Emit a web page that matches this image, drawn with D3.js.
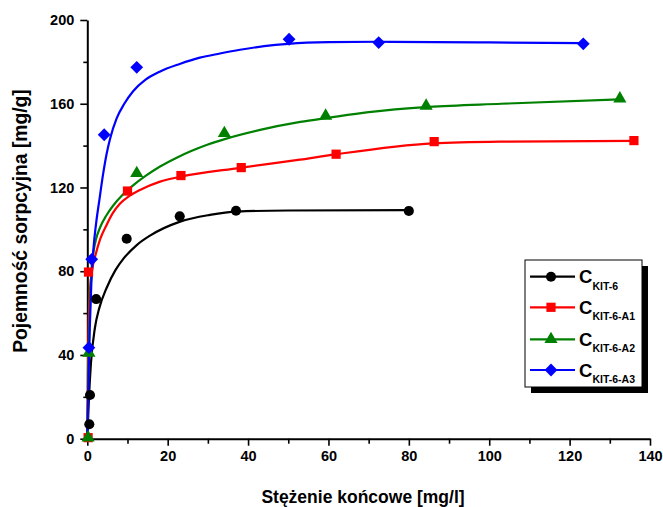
<!DOCTYPE html>
<html>
<head>
<meta charset="utf-8">
<script src="https://cdn.jsdelivr.net/npm/d3@7"></script>
<style>
  html, body { margin: 0; padding: 0; background: #fff; }
  svg { display: block; }
  text { font-family: "Liberation Sans", Arial, sans-serif; font-weight: bold; fill: #000; }
</style>
</head>
<body>
<svg id="chart" width="663" height="507"></svg>
<script>
// Measured adsorption points for each sorbent
const blackX = [0.5, 0.67, 2.2, 9.8, 23.0, 37.0, 80.0];
const blackY = [6.9, 20.9, 66.7, 95.5, 106.2, 108.9, 108.8];
const redX   = [0.2, 0.3, 10.0, 23.3, 38.3, 61.9, 86.3, 136.0];
const redY   = [0.5, 79.6, 118.3, 125.7, 129.5, 135.9, 141.9, 142.4];
const greenX = [0.2, 0.4, 12.3, 34.1, 59.3, 84.3, 132.5];
const greenY = [0.5, 41.0, 126.8, 145.9, 154.2, 159.0, 162.4];
const blueX  = [0.4, 1.1, 4.2, 12.3, 50.2, 72.5, 123.4];
const blueY  = [43.5, 85.7, 145.2, 177.4, 190.8, 189.2, 188.6];

// Isotherm fit lines
const fitBlackX = [0, 0.4, 0.9, 1.9, 3.0, 4.8, 7.0, 9.0, 12.3, 15.6, 23.1, 30.5, 37.2, 50, 80];
const fitBlackY = [0, 19, 36, 53, 62.5, 72, 80.5, 86, 92.5, 97, 103.7, 106.9, 108.5, 109, 109.2];
const fitRedX = [0, 0.15, 0.35, 0.7, 1.2, 2.16, 3.2, 4.8, 6.3, 8.1, 10.5, 13.1, 18.1, 23.1, 38, 52.9, 61.6, 86, 102.7, 136];
const fitRedY = [0, 30, 57, 72, 80.5, 88.6, 95.3, 102.1, 107.6, 112.2, 116, 118.8, 122.8, 125.1, 129.4, 133.3, 135.8, 141.1, 141.9, 142.3];
const fitGreenX = [0, 0.25, 0.5, 0.8, 1.1, 1.6, 2.2, 3.2, 4.7, 6.5, 8.8, 11.4, 14.5, 18.1, 22, 26, 30, 34, 43, 53, 60, 70, 85, 103, 132.5];
const fitGreenY = [0, 30, 52, 70, 82, 90, 95.5, 101, 106.5, 111.5, 116.5, 121, 125.5, 130, 134, 137.5, 140.5, 143, 147.5, 151.3, 153.3, 156, 158.5, 160, 162.1];
const fitBlueX = [0, 0.3, 0.6, 1.0, 1.5, 2.2, 3.0, 3.9, 4.8, 5.7, 7.3, 9.2, 11.4, 14.5, 18, 23, 28, 33, 38, 44, 50, 60, 72.5, 100, 123.4];
const fitBlueY = [0, 28, 52, 74, 90, 103, 114, 126, 136, 143.5, 153, 160, 166, 171.5, 175.3, 179, 182, 184, 185.8, 187.5, 188.6, 189.4, 189.6, 189.3, 189];

const seriesNames = ["KIT-6", "KIT-6-A1", "KIT-6-A2", "KIT-6-A3"];
const seriesColors = ["#000000", "#ff0000", "#008000", "#0000ff"];
const seriesSymbols = [d3.symbolCircle, d3.symbolSquare, d3.symbolTriangle, d3.symbolSquare];
const symbolRotate = [0, 0, 0, 45];
const symbolSizes = [80, 85, 75, 82];

const xTicks = [0, 20, 40, 60, 80, 100, 120, 140];
const xMinor = [10, 30, 50, 70, 90, 110, 130];
const yTicks = [0, 40, 80, 120, 160, 200];
const yMinor = [20, 60, 100, 140, 180];

const xTitle = "Stężenie końcowe [mg/l]";
const yTitle = "Pojemność sorpcyjna [mg/g]";

const pts = [
  [blackX, blackY], [redX, redY], [greenX, greenY], [blueX, blueY]
];
const fits = [
  [fitBlackX, fitBlackY], [fitRedX, fitRedY], [fitGreenX, fitGreenY], [fitBlueX, fitBlueY]
];

const svg = d3.select("#chart");
const x = d3.scaleLinear().domain([0, 140]).range([87.3, 650]);
const y = d3.scaleLinear().domain([0, 200]).range([438.7, 20]);

// Axes: left and bottom only, outward ticks with minor ticks between
const gx = svg.append("g").attr("transform", `translate(0,${y(0)})`);
gx.call(d3.axisBottom(x).tickValues(xMinor).tickSize(5).tickSizeOuter(0).tickFormat(""));
gx.call(g => g.select(".domain").remove());
const gx2 = svg.append("g").attr("transform", `translate(0,${y(0)})`);
gx2.call(d3.axisBottom(x).tickValues(xTicks).tickSize(7).tickSizeOuter(0).tickPadding(5).tickFormat(d3.format("d")));

const gy = svg.append("g").attr("transform", `translate(${x(0)},0)`);
gy.call(d3.axisLeft(y).tickValues(yMinor).tickSize(4).tickSizeOuter(0).tickFormat(""));
gy.call(g => g.select(".domain").remove());
const gy2 = svg.append("g").attr("transform", `translate(${x(0)},0)`);
gy2.call(d3.axisLeft(y).tickValues(yTicks).tickSize(7).tickSizeOuter(0).tickPadding(6).tickFormat(d3.format("d")));

svg.selectAll(".domain").attr("stroke", "#000").attr("stroke-width", 2);
svg.selectAll(".tick line").attr("stroke", "#000").attr("stroke-width", 1.6);
svg.selectAll(".tick text")
  .attr("font-family", '"Liberation Sans", Arial, sans-serif')
  .attr("font-weight", "bold")
  .attr("font-size", 14.5)
  .attr("fill", "#000");

// Fit lines
const line = d3.line().x(d => x(d[0])).y(d => y(d[1])).curve(d3.curveMonotoneX);
fits.forEach((f, i) => {
  const data = f[0].map((v, k) => [v, f[1][k]]);
  svg.append("path")
    .datum(data)
    .attr("d", line)
    .attr("fill", "none")
    .attr("stroke", seriesColors[i])
    .attr("stroke-width", 2.2);
});

// Markers
pts.forEach((p, i) => {
  const data = p[0].map((v, k) => [v, p[1][k]]);
  svg.append("g").selectAll("path")
    .data(data)
    .join("path")
    .attr("transform", d => `translate(${x(d[0])},${y(d[1])}) rotate(${symbolRotate[i]})`)
    .attr("d", d3.symbol().type(seriesSymbols[i]).size(symbolSizes[i]))
    .attr("fill", seriesColors[i]);
});

// Axis titles
svg.append("text")
  .attr("x", 363).attr("y", 503)
  .attr("text-anchor", "middle")
  .attr("font-size", 17.5)
  .text(xTitle);
svg.append("text")
  .attr("transform", "translate(27,221) rotate(-90)")
  .attr("text-anchor", "middle")
  .attr("font-size", 19.3)
  .text(yTitle);

// Legend with drop shadow
const lg = svg.append("g");
lg.append("rect").attr("x", 531).attr("y", 266).attr("width", 117).attr("height", 127).attr("fill", "#000");
lg.append("rect").attr("x", 525).attr("y", 260).attr("width", 117).attr("height", 127)
  .attr("fill", "#fff").attr("stroke", "#000").attr("stroke-width", 1);
const rowY = [276.7, 307.3, 339.3, 370];
seriesNames.forEach((name, i) => {
  const yy = rowY[i];
  lg.append("line").attr("x1", 530).attr("x2", 575).attr("y1", yy).attr("y2", yy)
    .attr("stroke", seriesColors[i]).attr("stroke-width", 2.2);
  lg.append("path").attr("transform", `translate(551,${yy}) rotate(${symbolRotate[i]})`)
    .attr("d", d3.symbol().type(seriesSymbols[i]).size(symbolSizes[i]))
    .attr("fill", seriesColors[i]);
  const t = lg.append("text").attr("x", 579).attr("y", yy + 6.6).attr("font-size", 18.5);
  t.append("tspan").text("C");
  t.append("tspan").attr("font-size", 10.5).attr("dy", 6.5).text(name);
});
</script>
</body>
</html>
